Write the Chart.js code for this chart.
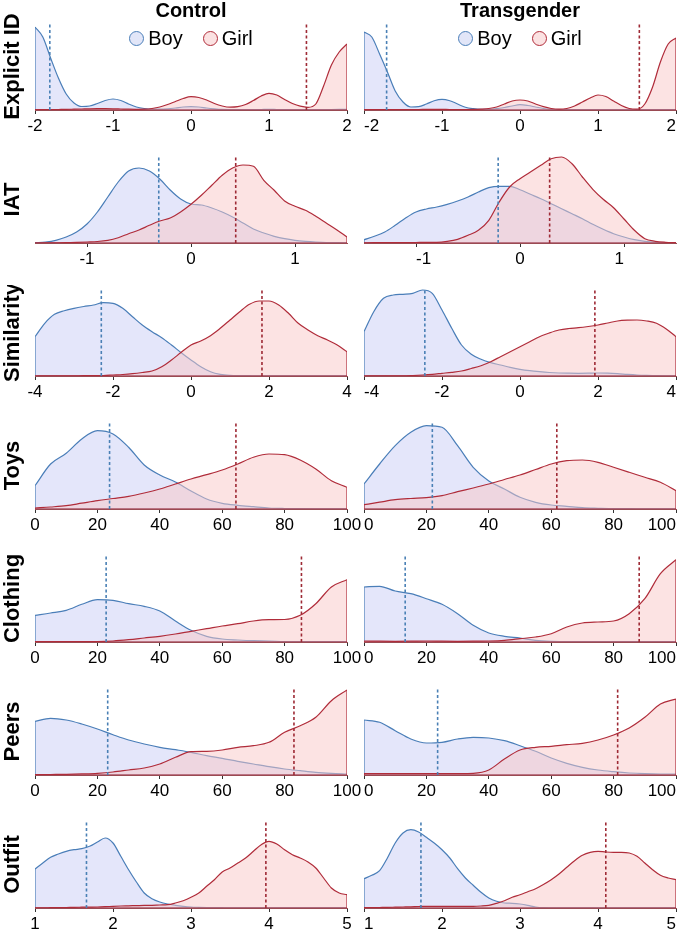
<!DOCTYPE html>
<html>
<head>
<meta charset="utf-8">
<script src="https://cdn.jsdelivr.net/npm/chart.js@4.4.1/dist/chart.umd.min.js"></script>
<style>
  body { margin: 0; background: #fff; width: 677px; height: 934px; overflow: hidden; position: relative;
         font-family: 'Liberation Sans', Arial, Helvetica, sans-serif; }
  canvas { position: absolute; }
  .legend { position: absolute; height: 22px; display: flex; justify-content: center; align-items: center;
            font-size: 20px; color: #000; z-index: 2; }
  .legend .dot { display: inline-block; width: 13px; height: 13px; border-radius: 50%; border: 1.4px solid; margin-right: 4px; }
  .legend .item { display: flex; align-items: center; margin: 0 10px; }
</style>
</head>
<body>
<script>
Chart.defaults.font.family = "'Liberation Sans', Arial, Helvetica, sans-serif";
Chart.defaults.color = '#000';

const groups = ['Control', 'Transgender'];
const seriesNames = ['Boy', 'Girl'];
const rowNames = ['Explicit ID', 'IAT', 'Similarity', 'Toys', 'Clothing', 'Peers', 'Outfit'];

// density heights (arbitrary units, panel top = 87)
const densityTop = 87;

const explicitX = [-2,-1.9,-1.8,-1.7,-1.6,-1.5,-1.4,-1.3,-1.2,-1.1,-1,-0.9,-0.8,-0.7,-0.6,-0.5,-0.4,-0.3,-0.2,-0.1,0,0.1,0.2,0.3,0.4,0.5,0.6,0.7,0.8,0.9,1,1.1,1.2,1.3,1.4,1.5,1.6,1.7,1.8,1.9,2];
const explicitBoyCtl = [83,73,52,32,16,7,3.5,4,6.5,9.5, 11,9.5,6,3,1.5,0.8,0.8,1.2,2,3, 3.3, 3,2,1.2,0.6,0.4,0.3,0.3,0.4,0.5,0.6, 0.5,0.4,0.3,0.3,0.3,0.3,0.4,0.5,0.6,0.7];
const explicitGirlCtl = [0.3,0.3,0.4,0.5,0.6,0.8,1,1.2,1.3,1.3, 1.2,1,0.8,0.7,0.8,1.5,3,5.5,8.5,11.5, 13.3, 12.5,10,6.5,4,2.8,3.3,5.5,9.5,14,16.7, 15,10.5,6.5,3.8,2.7,6,24,45,58,66];
const explicitBoyTr = [78,73,56,38,19,8,3,3.3,6,9.3, 10.7,9.3,6,2.7,1.3,0.7,0.7,1.3,2.5,4, 5.3, 4.5,3,1.5,0.7,0.4,0.3,0.3,0.3,0.3,0.3, 0.3,0.3,0.3,0.3,0.3,0.3,0.3,0.3,0.3,0.3];
const explicitGirlTr = [0.5,0.5,0.5,0.5,0.5,0.5,0.5,0.5,0.6,0.6, 0.6,0.5,0.5,0.5,0.6,0.9,1.5,3,6,9, 10, 9,6,3.3,1.5,0.8,1.5,4,8,12,15, 13.5,9,4.5,1.5,0.8,6,23,48,66,72];

const iatX = [-1.5,-1.4,-1.3,-1.2,-1.1,-1,-0.9,-0.8,-0.7,-0.6,-0.5,-0.4,-0.3,-0.2,-0.1,0,0.1,0.2,0.3,0.4,0.5,0.6,0.7,0.8,0.9,1,1.1,1.2,1.3,1.4,1.5];
const iatBoyCtl = [0.3,1,2.7,6,11,19,31,46,61,72, 75,72,64,53,44,39,38,35,31,26, 20,14,10,6.7,4.3,2.7,1.7,1,0.5,0.3,0.2];
const iatGirlCtl = [0,0.1,0.2,0.3,0.6,1,1.5,2.7,5.3,9.3, 13,17.7,22,25,31,38.7,47.7,57.7,67.7,75, 78,76.7,62.7,52.7,42,36.7,32.7,26.7,20,13.3,6];
const iatBoyTr = [3.3,6.7,11,17.7,25,31,34,36,38.7,42, 46,51,55.3,56.7,56.7,53.3,48.7,44.3,39.3,34.3, 29.3,24.3,18.7,13.7,9.3,6,3.3,1.7,0.7,0.3,0.2];
const iatGirlTr = [0.2,0.3,0.3,0.4,0.4,0.5,0.6,0.7,1.7,3.7, 7.7,12.7,22.7,41,56,64.3,71,77.7,84.3,86, 79.3,66,53.7,43.7,35.3,24,12.7,4.3,1.7,0.7,0.3];

const simX = [-4,-3.75,-3.5,-3.25,-3,-2.75,-2.5,-2.25,-2,-1.75,-1.5,-1.25,-1,-0.75,-0.5,-0.25,0,0.25,0.5,0.75,1,1.25,1.5,1.75,2,2.25,2.5,2.75,3,3.25,3.5,3.75,4];
const simBoyCtl = [39.3,52.7,61.7,65.3,67.7,69.5,71,73.3,72.7,67.7,59.3,51,44.3,38.3,31,23.3, 16, 9.3,4.3,1.7,0.7,0.4,0.3,0.2,0.2,0.2,0.2,0.2,0.2,0.2,0.2,0.2,0.2];
const simGirlCtl = [0,0.1,0.1,0.2,0.2,0.3,0.3,0.5,1,1.5,2.3,3.5,5,9.3,16,23.7, 31, 35,40.3,47.7,56,64.3,71.7,75,75,71,62.7,52.7,46,40.3,36,31,24.3];
const simBoyTr = [44.3,64.3,77.7,81,81.7,82.7,86,82.7,66,47.7,31,21.7,16.7,13.3,11,8.7, 6.7, 5.3,4.3,3.5,3,2.8,2.7,2.8,3,2.8,2.3,1.6,1,0.6,0.3,0.2,0.2];
const simGirlTr = [0,0.1,0.1,0.2,0.2,0.5,1,1.7,2.7,3.7,5,7.5,10.3,14.3,19.3,24.3, 29.3, 34.3,39.3,43,46,47.5,48.3,49.5,51,53,55,55.8,56,55,52.7,47,39.3];

const pctX = [0,5,10,15,20,25,30,35,40,45,50,55,60,65,70,75,80,85,90,95,100];
const toysBoyCtl = [23.3,45,55.7,70,78.3,75,61.7,44,34,27,18,10,5.7,3.7,2.3,1,0.5,0.3,0.2,0.2,0.2];
const toysGirlCtl = [1,2,3.3,5.8,8.3,10.5,12.7,16,20,25,30,34.3,39,45,51.7,55,54.3,49,40,28.3,21.7];
const toysBoyTr = [25,45,63.3,76.7,83.3,81.7,63.3,41.7,28,20,11.7,6.7,4,2.7,1.3,0.7,0.3,0.3,0.2,0.2,0.2];
const toysGirlTr = [4.3,6.8,9.3,10.5,11.3,13.3,17.3,21,25,29.5,34,39.5,45,48.3,49,46.7,41.7,36.7,31.7,26.7,18.3];

const clothBoyCtl = [26.7,29,31.7,37.7,42.3,41.7,38.3,35.7,31,21,11.7,5.7,3,2,1.3,1,0.5,0.4,0.3,0.3,0.3];
const clothGirlCtl = [0.3,0.3,0.3,0.3,0.4,1,2.3,4,5.7,8,10.7,13.3,16,18.3,21,22.3,22.5,26.7,38.3,55,62.3];
const clothBoyTr = [55,55.7,51,48.3,43.3,37.7,28.3,16.7,9,5.7,4,1.7,0.7,0.3,0.3,0.3,0.3,0.3,0.3,0.3,0.3];
const clothGirlTr = [1,0.8,0.7,0.8,1,0.8,0.7,0.8,1,1.7,3.3,5,8.3,15,19,20,21,28.3,43.3,68.3,82.3];

const peersBoyCtl = [53.7,56.7,55,51,46,40.3,35,31,27.7,25.3,22.7,19.3,16.7,13.7,11,8.3,6,4.3,2.7,1.7,1];
const peersGirlCtl = [0.3,0.5,0.7,1.1,1.7,3,5,7,11,17.7,23.3,23.7,25,27.7,29.3,32.7,42.7,49.3,57.7,74.3,85];
const peersBoyTr = [55,52.7,44.3,36,32,32.7,36,37.7,37,34.3,29.3,23.7,17,11.7,7.7,5,3.3,2,1.3,1,1];
const peersGirlTr = [1.3,1.3,1.3,1.3,1.3,1.3,1.4,1.7,5,16,25,27.7,28.7,30.3,31.7,35,40,47,57.7,71,76];

const outfitX = [1,1.1,1.2,1.3,1.4,1.5,1.6,1.7,1.8,1.9,2,2.1,2.2,2.3,2.4,2.5,2.6,2.7,2.8,2.9,3,3.1,3.2,3.3,3.4,3.5,3.6,3.7,3.8,3.9,4,4.1,4.2,4.3,4.4,4.5,4.6,4.7,4.8,4.9,5];
const outfitBoyCtl = [39,45,50.7,54,56.7,58.3,59.3,61.7,66,70, 65,51.7,38.3,26,15,9.3,6,4,2.7,1.7, 1,0.7,0.5,0.4,0.3,0.2,0.2,0.2,0.2,0.2, 0.2,0.2,0.2,0.2,0.2,0.2,0.2,0.2,0.2,0.2,0.2];
const outfitGirlCtl = [0.2,0.2,0.3,0.4,0.5,0.7,0.8,0.9,1,1.3, 1.7,2,2.2,2.4,2.6,2.7,3,3.3,5,7.3, 10.7,15,21.7,28.3,36,40,45,50,56.7,63.3, 66.7,64,58.3,53.3,50,46,40,30,20,15,13.3];
const outfitBoyTr = [29.3,32.7,37.3,50,65,75,78.3,76,70.7,65, 58.3,50,39.3,30,22.7,15.7,10,6.7,5,4.7, 4,2.7,1,0.3,0.2,0.1,0.1,0.1,0.1,0.1, 0.1,0.1,0.1,0.1,0.1,0.1,0.1,0.1,0.1,0.1,0.1];
const outfitGirlTr = [0.3,0.4,0.5,0.6,0.8,1,1.2,1.5,1.7,1.7, 1.7,1.7,1.7,1.7,1.7,2,2.7,4.7,7.3,10.7, 13.3,16.3,19.3,23.5,28.3,34,40.7,47.3,52.7,55.7, 56.7,56,55.7,55.7,55,51.7,45,38.3,32.7,30,28.3];

// group means (dotted lines), one per row
const boyMeanCtl = [-1.81, -0.31, -2.3, 23.9, 22.8, 23.3, 1.66];
const girlMeanCtl = [1.48, 0.43, 1.82, 64.4, 85.4, 83, 3.96];
const boyMeanTr = [-1.71, -0.21, -2.44, 21.9, 13.2, 23.6, 1.73];
const girlMeanTr = [1.53, 0.285, 1.92, 61.8, 88.2, 81.3, 4.1];

const explicitTicks = [-2, -1, 0, 1, 2];
const iatTicks = [-1, 0, 1];
const simTicks = [-4, -2, 0, 2, 4];
const pctTicks = [0, 20, 40, 60, 80, 100];
const outfitTicks = [1, 2, 3, 4, 5];

const rowX = [explicitX, iatX, simX, pctX, pctX, pctX, outfitX];
const rowRange = [[-2, 2], [-1.5, 1.5], [-4, 4], [0, 100], [0, 100], [0, 100], [1, 5]];
const rowTicks = [explicitTicks, iatTicks, simTicks, pctTicks, pctTicks, pctTicks, outfitTicks];
const boyCurves = [
  [explicitBoyCtl, iatBoyCtl, simBoyCtl, toysBoyCtl, clothBoyCtl, peersBoyCtl, outfitBoyCtl],
  [explicitBoyTr, iatBoyTr, simBoyTr, toysBoyTr, clothBoyTr, peersBoyTr, outfitBoyTr]
];
const girlCurves = [
  [explicitGirlCtl, iatGirlCtl, simGirlCtl, toysGirlCtl, clothGirlCtl, peersGirlCtl, outfitGirlCtl],
  [explicitGirlTr, iatGirlTr, simGirlTr, toysGirlTr, clothGirlTr, peersGirlTr, outfitGirlTr]
];
const boyMeans = [boyMeanCtl, boyMeanTr];
const girlMeans = [girlMeanCtl, girlMeanTr];

const blueLine = '#4a7eb8', blueFill = 'rgba(205,210,245,0.55)', blueMean = '#4a80b5';
const redLine = '#b02c3a', redFill = 'rgba(250,200,200,0.5)', redMean = '#9e2a35';

// layout
const firstBase = 110, rowStep = 133, axisH = 26, titleH = 23, yAxisW = 35;
const colLeft = [0, 350], colWidth = [362, 340], padLeft = [0, 14], padRight = [15, 14];
const plotLeft = [35, 364], plotRight = [347, 676];

const pts = (xs, ys) => xs.map((x, i) => ({ x, y: ys[i] }));

function curve(xs, ys, line, fillCol, order) {
  return { data: pts(xs, ys), borderColor: line, backgroundColor: fillCol, fill: 'origin',
           borderWidth: 1.2, pointRadius: 0, cubicInterpolationMode: 'monotone', order };
}

// closing edges of the density polygon (left side, base, right side)
function outline(xs, ys, line, order) {
  const n = xs.length - 1;
  return { data: [{ x: xs[0], y: ys[0] }, { x: xs[0], y: 0 }, { x: xs[n], y: 0 }, { x: xs[n], y: ys[n] }],
           borderColor: line, borderWidth: 1.2, pointRadius: 0, fill: false, tension: 0, order };
}

function meanLine(m, col) {
  return { data: [{ x: m, y: 0 }, { x: m, y: densityTop }], borderColor: col, borderWidth: 1.6,
           borderDash: [3, 2.5], pointRadius: 0, fill: false, tension: 0, order: 0 };
}

function addLegend(c) {
  const lg = document.createElement('div');
  lg.className = 'legend';
  lg.style.left = plotLeft[c] + 'px';
  lg.style.width = (plotRight[c] - plotLeft[c]) + 'px';
  lg.style.top = '27px';
  const cols = [[blueLine, '#e2e6f8'], [redLine, '#fbe2e2']];
  seriesNames.forEach((name, i) => {
    const it = document.createElement('span');
    it.className = 'item';
    const dot = document.createElement('span');
    dot.className = 'dot';
    dot.style.borderColor = cols[i][0];
    dot.style.background = cols[i][1];
    it.appendChild(dot);
    it.appendChild(document.createTextNode(name));
    lg.appendChild(it);
  });
  document.body.appendChild(lg);
}

function panel(r, c) {
  const base = firstBase + r * rowStep;
  const padTop = r === 0 ? 0 : 4;
  const tH = r === 0 ? titleH : 0;
  const cv = document.createElement('canvas');
  cv.width = colWidth[c];
  cv.height = padTop + tH + densityTop + axisH;
  cv.style.left = colLeft[c] + 'px';
  cv.style.top = (base - densityTop - padTop - tH) + 'px';
  document.body.appendChild(cv);

  const xs = rowX[r];
  const boy = boyCurves[c][r], girl = girlCurves[c][r];
  const ticks = rowTicks[r];

  new Chart(cv.getContext('2d'), {
    type: 'line',
    data: {
      datasets: [
        curve(xs, boy, blueLine, blueFill, 4),
        outline(xs, boy, blueLine, 3),
        curve(xs, girl, redLine, redFill, 2),
        outline(xs, girl, redLine, 1),
        meanLine(boyMeans[c][r], blueMean),
        meanLine(girlMeans[c][r], redMean)
      ]
    },
    options: {
      responsive: false,
      animation: false,
      events: [],
      devicePixelRatio: 1,
      layout: { padding: { left: padLeft[c], right: padRight[c], top: padTop, bottom: 0 } },
      plugins: {
        legend: { display: false },
        tooltip: { enabled: false },
        title: {
          display: r === 0,
          text: groups[c],
          fullSize: false,
          color: '#000',
          font: { size: 20, weight: 'bold', lineHeight: 1.15 },
          padding: { top: 0, bottom: 0 }
        }
      },
      scales: {
        x: {
          type: 'linear',
          min: rowRange[r][0],
          max: rowRange[r][1],
          afterBuildTicks: s => { s.ticks = ticks.map(v => ({ value: v })); },
          afterFit: s => { s.height = axisH; s.paddingLeft = 0; s.paddingRight = 0; },
          grid: { display: true, drawOnChartArea: false, drawTicks: true, tickLength: 4, color: '#333' },
          border: { display: true, color: '#9a4a52', width: 1 },
          ticks: { color: '#000', font: { size: 17 }, padding: 2, maxRotation: 0, autoSkip: false,
                   align: c === 1 ? 'inner' : 'center', callback: v => String(v) }
        },
        y: {
          min: 0,
          max: densityTop,
          display: c === 0,
          afterFit: s => { s.width = c === 0 ? yAxisW : 0; },
          grid: { display: false },
          border: { display: false },
          ticks: { display: false },
          title: { display: true, text: rowNames[r], color: '#000',
                   font: { size: 22, weight: 'bold' }, padding: { top: 0, bottom: 0 } }
        }
      }
    }
  });
}

rowNames.forEach((_, r) => { panel(r, 0); panel(r, 1); });
addLegend(0);
addLegend(1);
</script>
</body>
</html>
